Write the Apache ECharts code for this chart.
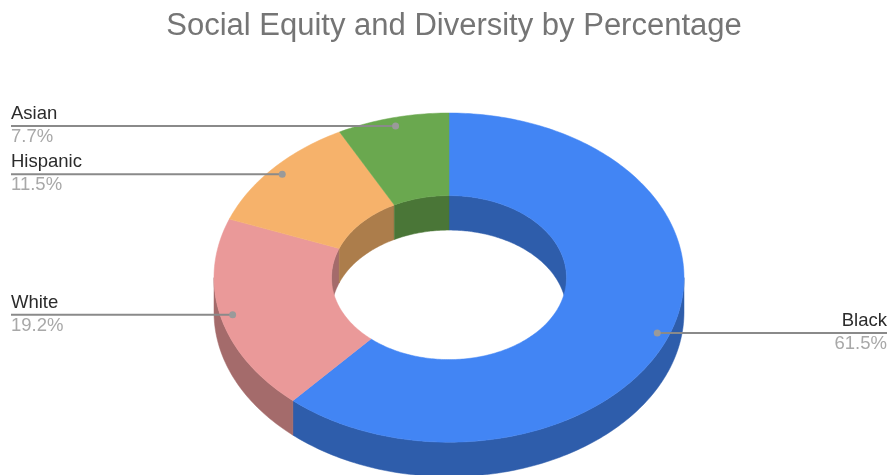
<!DOCTYPE html>
<html>
<head>
<meta charset="utf-8">
<title>Social Equity and Diversity by Percentage</title>
<style>
  html, body { margin: 0; padding: 0; background: #fff; }
  #chart { width: 889px; height: 475px; }
</style>
<script src="https://cdn.jsdelivr.net/npm/echarts@6/dist/echarts.min.js"></script>
</head>
<body>
<div id="chart"></div>
<script>
// clockwise from 12 o'clock
const groups = ['Black', 'White', 'Hispanic', 'Asian'];
const percents = [61.5, 19.2, 11.5, 7.7];

const faceColors = ['#4285f4', '#ea9999', '#f6b26b', '#6aa84f'];
const wallColors = ['#2e5dab', '#a46b6b', '#ac7d4b', '#4a7637'];

// the tilted ring
const cx = 449, cy = 277.6;
const outerRx = 235, outerRy = 164.6;
const innerRx = 117.5, innerRy = 82;
const depth = 34.5;
const anchorAt = 0.948;
const FONT = '"Liberation Sans", Arial, sans-serif';

const total = percents.reduce((a, b) => a + b, 0);
const starts = [];
percents.reduce((sum, v, i) => {
  starts[i] = sum / total * 360;
  return sum + v;
}, 0);

function ringPoint(deg, rx, ry, dy) {
  const t = deg * Math.PI / 180;
  return [cx + rx * Math.sin(t), cy - ry * Math.cos(t) + (dy || 0)];
}

function arc(from, to, rx, ry, dy) {
  const pts = [];
  const steps = Math.max(2, Math.ceil(Math.abs(to - from)));
  for (let i = 0; i <= steps; i++) {
    pts.push(ringPoint(from + (to - from) * i / steps, rx, ry, dy));
  }
  return pts;
}

function sliceRange(i) {
  const from = starts[i];
  return [from, from + percents[i] / total * 360];
}

// pieces of [from, to] inside [lo, hi], also trying one turn later
function overlaps(from, to, lo, hi) {
  const out = [];
  [0, 360].forEach(shift => {
    const a = Math.max(from + shift, lo), b = Math.min(to + shift, hi);
    if (b > a) out.push([a, b]);
  });
  return out;
}

function polygon(points, color) {
  return {
    type: 'polygon',
    shape: { points },
    style: { fill: color, stroke: color, lineWidth: 0.5 }
  };
}

function wallItem(params) {
  const i = params.dataIndex;
  const [from, to] = sliceRange(i);
  const children = [];
  // outside wall shows on the front half
  overlaps(from, to, 90, 270).forEach(([a, b]) => {
    const top = arc(a, b, outerRx, outerRy, 0);
    const low = arc(b, a, outerRx, outerRy, depth);
    children.push(polygon(top.concat(low), wallColors[i]));
  });
  // hole wall shows on the back half
  overlaps(from, to, 270, 450).forEach(([a, b]) => {
    const top = arc(a, b, innerRx, innerRy, 0);
    const low = arc(b, a, innerRx, innerRy, depth);
    children.push(polygon(top.concat(low), wallColors[i]));
  });
  return { type: 'group', children };
}

function faceItem(params) {
  const i = params.dataIndex;
  const [from, to] = sliceRange(i);
  const pts = arc(from, to, outerRx, outerRy, 0).concat(arc(to, from, innerRx, innerRy, 0));
  return polygon(pts, faceColors[i]);
}

function labelItem(params, api) {
  const i = params.dataIndex;
  const [from, to] = sliceRange(i);
  const p = ringPoint((from + to) / 2, outerRx * anchorAt, outerRy * anchorAt, 0);
  const right = p[0] > cx;
  const edge = right ? 887 : 11;
  const align = right ? 'right' : 'left';
  return {
    type: 'group',
    children: [
      {
        type: 'line',
        shape: { x1: edge, y1: p[1], x2: p[0], y2: p[1] },
        style: { stroke: '#8a8a8a', lineWidth: 2 }
      },
      {
        type: 'circle',
        shape: { cx: p[0], cy: p[1], r: 3.5 },
        style: { fill: '#9a9a9a' }
      },
      {
        type: 'text',
        x: edge,
        y: p[1] - 12,
        style: {
          text: groups[i],
          fill: '#2b2b2b',
          font: '18.5px ' + FONT,
          align,
          verticalAlign: 'middle'
        }
      },
      {
        type: 'text',
        x: edge,
        y: p[1] + 11,
        style: {
          text: api.value(0).toFixed(1) + '%',
          fill: '#a8a8a8',
          font: '18.5px ' + FONT,
          align,
          verticalAlign: 'middle'
        }
      }
    ]
  };
}

const myChart = echarts.init(document.getElementById('chart'), null, { renderer: 'canvas' });
myChart.setOption({
  animation: false,
  backgroundColor: '#fff',
  title: {
    text: 'Social Equity and Diversity by Percentage',
    left: 449,
    top: 6,
    textAlign: 'center',
    textStyle: {
      color: '#757575',
      fontFamily: FONT,
      fontSize: 31,
      fontWeight: 'normal'
    }
  },
  series: [
    { type: 'custom', coordinateSystem: 'none', z: 1, silent: true, data: percents, renderItem: wallItem },
    { type: 'custom', coordinateSystem: 'none', z: 2, silent: true, data: percents, renderItem: faceItem },
    { type: 'custom', coordinateSystem: 'none', z: 3, silent: true, data: percents, renderItem: labelItem }
  ]
});
</script>
</body>
</html>
